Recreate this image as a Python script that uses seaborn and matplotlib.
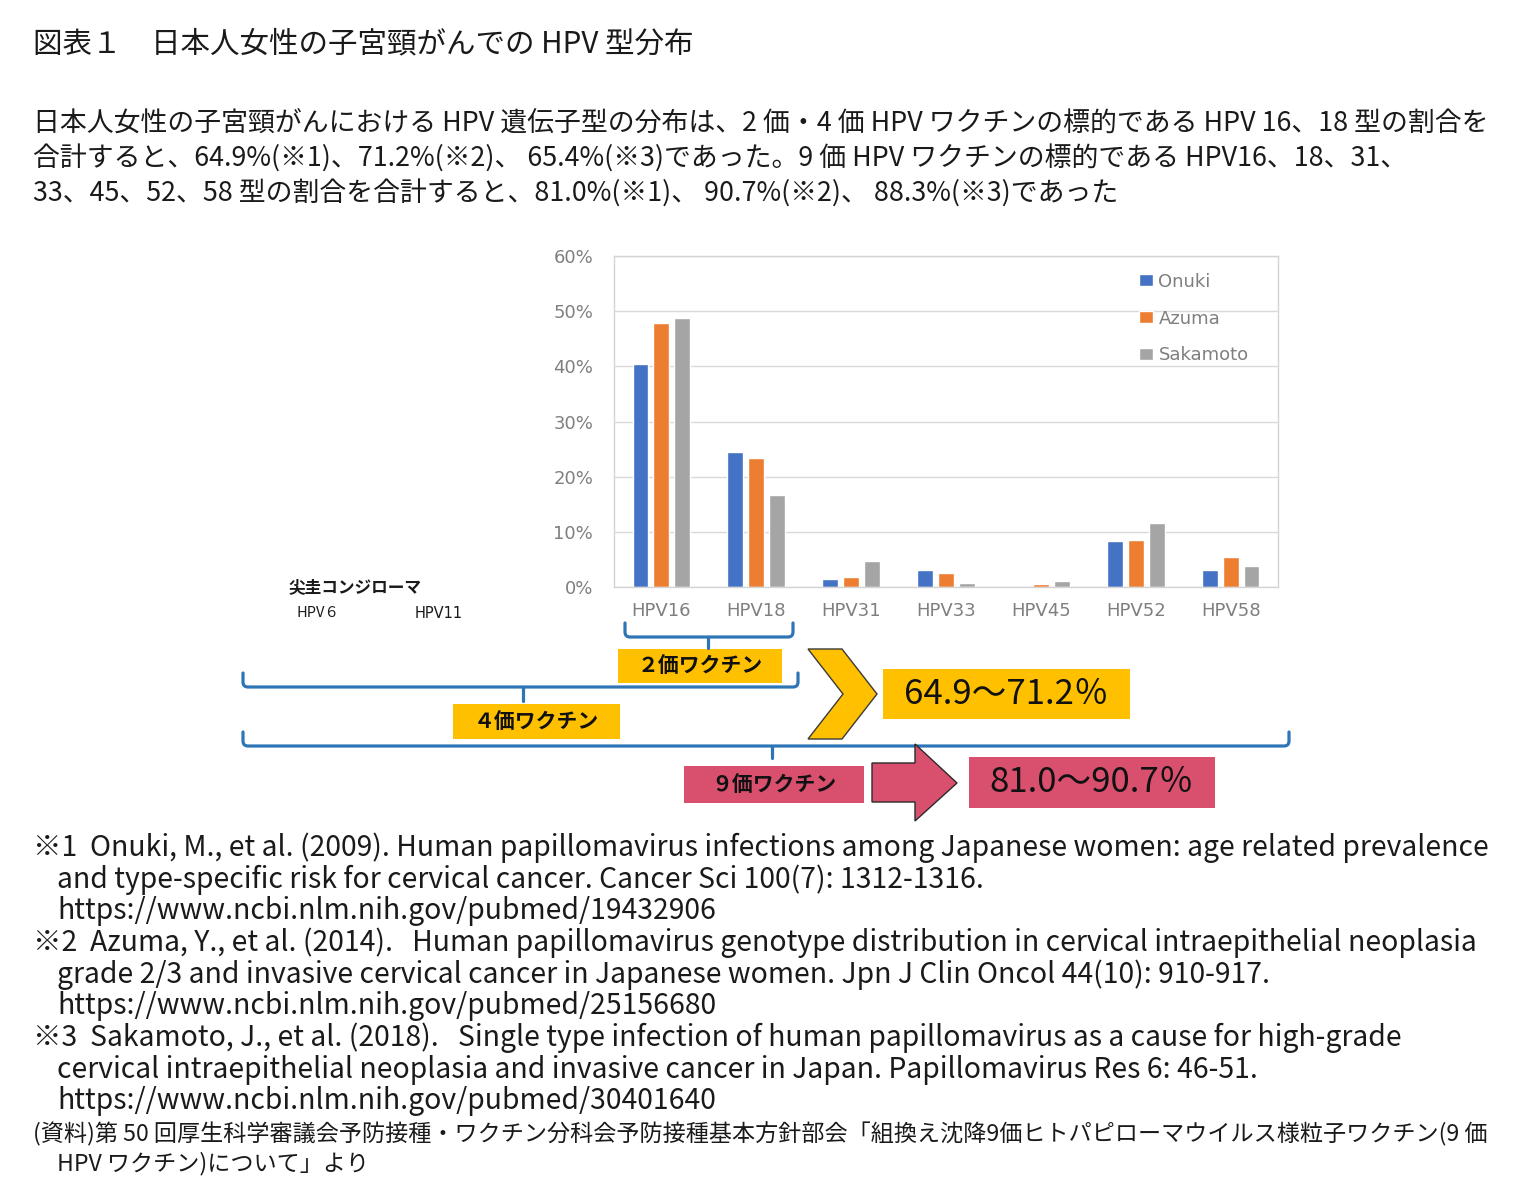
import matplotlib
matplotlib.use("Agg")
import matplotlib.pyplot as plt
import matplotlib.ticker as ticker
from matplotlib.patches import Rectangle, Polygon, PathPatch
from matplotlib.path import Path
import seaborn as sns
import pandas as pd

# -------------------------
# Data
# -------------------------
HPV_TYPES = ["HPV16", "HPV18", "HPV31", "HPV33", "HPV45", "HPV52", "HPV58"]
STUDIES = ["Onuki", "Azuma", "Sakamoto"]
ONUKI = [40.5, 24.4, 1.4, 3.0, 0.0, 8.3, 3.0]
AZUMA = [47.8, 23.4, 1.8, 2.6, 0.5, 8.6, 5.4]
SAKAMOTO = [48.7, 16.7, 4.7, 0.8, 1.1, 11.6, 3.8]
Y_TICKS = [0, 10, 20, 30, 40, 50, 60]
COLORS = ["#4472C4", "#ED7D31", "#A5A5A5"]

TITLE = "図表１　日本人女性の子宮頸がんでの HPV 型分布"
BODY = [
    "日本人女性の子宮頸がんにおける HPV 遺伝子型の分布は、2 価・4 価 HPV ワクチンの標的である HPV 16、18 型の割合を",
    "合計すると、64.9%(※1)、71.2%(※2)、 65.4%(※3)であった。9 価 HPV ワクチンの標的である HPV16、18、31、",
    "33、45、52、58 型の割合を合計すると、81.0%(※1)、 90.7%(※2)、 88.3%(※3)であった",
]
NOTES = [
    ("※1  Onuki, M., et al. (2009). Human papillomavirus infections among Japanese women: age related prevalence", 0),
    ("and type-specific risk for cervical cancer. Cancer Sci 100(7): 1312-1316.", 1),
    ("https://www.ncbi.nlm.nih.gov/pubmed/19432906", 1),
    ("※2  Azuma, Y., et al. (2014).   Human papillomavirus genotype distribution in cervical intraepithelial neoplasia", 0),
    ("grade 2/3 and invasive cervical cancer in Japanese women. Jpn J Clin Oncol 44(10): 910-917.", 1),
    ("https://www.ncbi.nlm.nih.gov/pubmed/25156680", 1),
    ("※3  Sakamoto, J., et al. (2018).   Single type infection of human papillomavirus as a cause for high-grade", 0),
    ("cervical intraepithelial neoplasia and invasive cancer in Japan. Papillomavirus Res 6: 46-51.", 1),
    ("https://www.ncbi.nlm.nih.gov/pubmed/30401640", 1),
]
SOURCE = [
    ("(資料)第 50 回厚生科学審議会予防接種・ワクチン分科会予防接種基本方針部会「組換え沈降9価ヒトパピローマウイルス様粒子ワクチン(9 価", 0),
    ("HPV ワクチン)について」より", 1),
]

sns.set_theme(style="whitegrid")
plt.rcParams["font.family"] = ["Noto Sans CJK JP", "DejaVu Sans"]

W, H = 1521, 1203
fig = plt.figure(figsize=(W / 100, H / 100), dpi=100)
fig.patch.set_facecolor("white")

# -------------------------
# Bar chart
# -------------------------
left, right, top, bottom = 614, 1278, 256, 587
ax = fig.add_axes([left / W, 1 - bottom / H, (right - left) / W, (bottom - top) / H])

df = pd.DataFrame({
    "type": HPV_TYPES * 3,
    "study": [s for s in STUDIES for _ in HPV_TYPES],
    "pct": ONUKI + AZUMA + SAKAMOTO,
})
sns.barplot(data=df, x="type", y="pct", hue="study", palette=COLORS,
            width=0.66, gap=0.24, saturation=1, ax=ax)

ax.set_ylim(0, 60)
ax.set_yticks(Y_TICKS)
ax.yaxis.set_major_formatter(ticker.FuncFormatter(lambda v, p: f"{v:.0f}%"))
ax.set_xlabel("")
ax.set_ylabel("")
ax.grid(axis="x", visible=False)
ax.grid(axis="y", color="#d9d9d9", lw=1)
ax.set_axisbelow(True)
for sp in ax.spines.values():
    sp.set_color("#d4d4d4")
    sp.set_linewidth(1)
ax.tick_params(axis="both", length=0, labelsize=13, labelcolor="#7f7f7f",
               labelfontfamily="DejaVu Sans")
ax.tick_params(axis="x", pad=11)
ax.tick_params(axis="y", pad=15)

handles, labels = ax.get_legend_handles_labels()
ax.legend(handles, labels, loc="upper left", bbox_to_anchor=(0.79, 0.95),
          frameon=False, borderaxespad=0, borderpad=0, handlelength=0.8,
          handleheight=0.65, handletextpad=0.3, labelspacing=1.05,
          prop={"family": "DejaVu Sans", "size": 13}, labelcolor="#7f7f7f")

# -------------------------
# Overlay in pixel coordinates for texts, brackets and arrows
# -------------------------
ov = fig.add_axes([0, 0, 1, 1], zorder=5)
ov.set_xlim(0, W)
ov.set_ylim(H, 0)
ov.axis("off")
ov.patch.set_alpha(0)

TXT = "#1a1a1a"


def fit_block(texts, ref, width):
    r = fig.canvas.get_renderer()
    w = ref.get_window_extent(r).width
    k = width / w
    for t in texts:
        t.set_fontsize(t.get_fontsize() * k)


fig.canvas.draw()

t_title = ov.text(33, 44, TITLE, fontsize=21, color=TXT, va="center")
fit_block([t_title], t_title, 660)

body_txt = [ov.text(33, y, s, fontsize=19, color=TXT, va="center")
            for s, y in zip(BODY, [123, 158, 193])]
fit_block(body_txt, body_txt[0], 1454)

note_y = [848, 880, 911, 943, 975, 1006, 1038, 1070, 1101]
note_txt = [ov.text(33 + 24 * ind, y, s, fontsize=19, color=TXT, va="center")
            for (s, ind), y in zip(NOTES, note_y)]
fit_block(note_txt, note_txt[0], 1454)

src_txt = [ov.text(33 + 24 * ind, y, s, fontsize=17, color=TXT, va="center")
           for (s, ind), y in zip(SOURCE, [1134, 1164])]
fit_block(src_txt, src_txt[0], 1454)

# labels left of the chart
ov.text(288, 587, "尖圭コンジローマ", fontsize=12, fontweight="bold", color=TXT, va="center")
ov.text(297, 613, "HPV６", fontsize=10.5, color=TXT, va="center")
ov.text(415, 613, "HPV11", fontsize=10.5, color=TXT, va="center", family="DejaVu Sans")

BLUE = "#2E75B6"


def bracket(x0, x1, y, up, xm, down, r=5):
    verts = [(x0, y - up), (x0, y - r), (x0, y), (x0 + r, y),
             (x1 - r, y), (x1, y), (x1, y - r), (x1, y - up)]
    codes = [Path.MOVETO, Path.LINETO, Path.CURVE3, Path.CURVE3,
             Path.LINETO, Path.CURVE3, Path.CURVE3, Path.LINETO]
    ov.add_patch(PathPatch(Path(verts, codes), fc="none", ec=BLUE, lw=2.3,
                           capstyle="round", joinstyle="round"))
    ov.plot([xm, xm], [y, y + down], color=BLUE, lw=2.3, solid_capstyle="round")


bracket(625, 793, 637, 14, 708, 11)
bracket(243, 798, 687, 14, 523, 14)
bracket(243, 1289, 746, 14, 772, 12)

YELLOW = "#FFC000"
PINK = "#D9506F"


def box(x0, y0, x1, y1, color, label, size, weight="normal"):
    ov.add_patch(Rectangle((x0, y0), x1 - x0, y1 - y0, fc=color, ec="none"))
    ov.text((x0 + x1) / 2, (y0 + y1) / 2, label, fontsize=size, fontweight=weight,
            color="#111111", ha="center", va="center")


box(618, 649, 782, 683, YELLOW, "２価ワクチン", 15, "bold")
box(453, 704, 620, 739, YELLOW, "４価ワクチン", 15, "bold")
box(684, 766, 864, 803, PINK, "９価ワクチン", 15, "bold")
box(883, 669, 1130, 719, YELLOW, "64.9〜71.2％", 25)
box(969, 757, 1215, 808, PINK, "81.0〜90.7％", 25)

ov.add_patch(Polygon([(808, 649), (842, 649), (877, 694), (842, 739), (808, 739), (843, 694)],
                     closed=True, fc=YELLOW, ec="#3a3a3a", lw=1))
ov.add_patch(Polygon([(872, 763), (915, 763), (915, 744), (957, 783), (915, 821), (915, 802), (872, 802)],
                     closed=True, fc=PINK, ec="#2a2a2a", lw=1))

fig.savefig("out.png", dpi=100)
